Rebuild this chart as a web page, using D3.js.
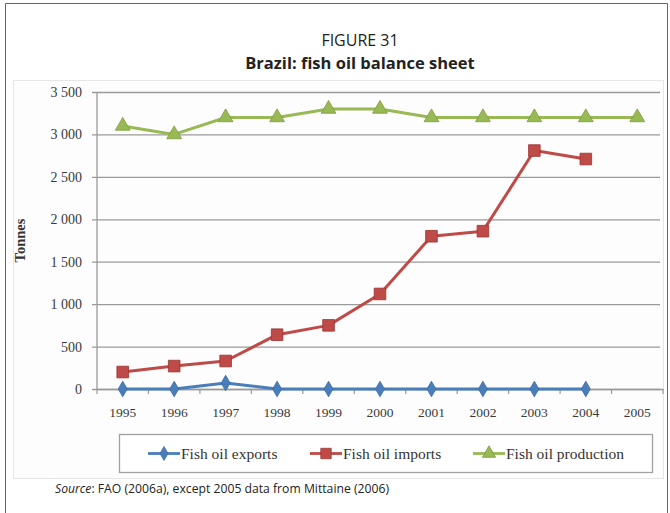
<!DOCTYPE html>
<html><head><meta charset="utf-8">
<script src="https://cdn.jsdelivr.net/npm/d3@7"></script>
<style>
html,body{margin:0;padding:0;background:#fff;}
svg{display:block;}
</style></head>
<body>
<svg id="chart" width="670" height="513"></svg>
<script>
const years = ["1995","1996","1997","1998","1999","2000","2001","2002","2003","2004","2005"];
const exportsVals = [0, 0, 70, 0, 0, 0, 0, 0, 0, 0, null];
const importsVals = [200, 270, 330, 640, 750, 1120, 1800, 1860, 2810, 2710, null];
const productionVals = [3100, 3000, 3200, 3200, 3300, 3300, 3200, 3200, 3200, 3200, 3200];
const yTicks = [0, 500, 1000, 1500, 2000, 2500, 3000, 3500];
const seriesNames = ["Fish oil exports", "Fish oil imports", "Fish oil production"];
const titleTop = "FIGURE 31";
const titleMain = "Brazil: fish oil balance sheet";

const svg = d3.select("#chart");
const serif = "'Liberation Serif','Times New Roman',serif";
const sans = "'Open Sans','Noto Sans','DejaVu Sans',sans-serif";

// outer frame
svg.append("path").attr("d","M5.5,513 L5.5,3.5 L667.5,3.5 L667.5,513")
  .attr("fill","none").attr("stroke","#666").attr("stroke-width",1);

// chart area
svg.append("rect").attr("x",13.5).attr("y",80.5).attr("width",650).attr("height",398)
  .attr("fill","#fdfdfd").attr("stroke","#e6e6e6");

svg.append("text").attr("x",360).attr("y",46).attr("text-anchor","middle")
  .attr("font-family",sans).attr("font-size",16).attr("fill","#222").text(titleTop);
svg.append("text").attr("x",360).attr("y",69).attr("text-anchor","middle")
  .attr("font-family",sans).attr("font-size",16.5).attr("font-weight","bold").attr("fill","#222").text(titleMain);

const margin = {left:97, right:663, top:92, bottom:389};
const x = d3.scaleBand().domain(years).range([margin.left, margin.right]).padding(0);
const y = d3.scaleLinear().domain([0,3500]).range([margin.bottom, margin.top]);
const cx = d => x(d) + x.bandwidth()/2;

// gridlines + y labels
const yAxis = d3.axisLeft(y).tickValues(yTicks).tickSize(-(margin.right - 3 - margin.left)).tickPadding(10)
  .tickFormat(v => v >= 1000 ? Math.floor(v/1000) + " " + String(v%1000).padStart(3,"0") : String(v));
const gy = svg.append("g").attr("transform",`translate(${margin.left},0)`).call(yAxis);
gy.select(".domain").remove();
gy.selectAll(".tick line").attr("stroke","#9a9a9a").attr("stroke-width",1.3).attr("x1",-5);
gy.selectAll(".tick text").attr("font-family",serif).attr("font-size",14).attr("fill","#3a3a3a").attr("x",-15);

// y axis line
svg.append("line").attr("x1",margin.left).attr("x2",margin.left).attr("y1",margin.top).attr("y2",margin.bottom)
  .attr("stroke","#9a9a9a").attr("stroke-width",1.3);

// x axis
const xAxis = d3.axisBottom(x).tickSize(0).tickPadding(18);
const gx = svg.append("g").attr("transform",`translate(0,${margin.bottom})`).call(xAxis);
gx.select(".domain").attr("stroke","#9a9a9a").attr("stroke-width",1.3);
gx.selectAll(".tick text").attr("font-family",serif).attr("font-size",13.5).attr("fill","#3a3a3a");
const bounds = years.map(d => x(d)).concat([margin.right]);
svg.append("g").selectAll("line").data(bounds).join("line")
  .attr("x1",d=>d).attr("x2",d=>d).attr("y1",margin.bottom).attr("y2",margin.bottom+5)
  .attr("stroke","#9a9a9a").attr("stroke-width",1.2);

// y axis title
svg.append("text").attr("transform",`translate(25,${(margin.top+margin.bottom)/2}) rotate(-90)`)
  .attr("text-anchor","middle").attr("font-family",serif).attr("font-size",14.5).attr("font-weight","bold")
  .attr("fill","#333").text("Tonnes");

const colors = ["#4a7ebb","#be4b48","#98b954"];
const strokes = ["#3a6aa5","#9e3330","#7e9c3f"];
const data = [exportsVals, importsVals, productionVals];
const line = d3.line().defined(d => d.v !== null).x(d => cx(d.k)).y(d => y(d.v));
const symbols = [d3.symbolDiamond, d3.symbolSquare, d3.symbolTriangle];
const sizes = [70, 135, 95];

data.forEach((vals, i) => {
  const pts = years.map((k, j) => ({k, v: vals[j]}));
  svg.append("path").datum(pts).attr("d", line).attr("fill","none")
    .attr("stroke", colors[i]).attr("stroke-width", 3).attr("stroke-linejoin","round");
  svg.append("g").selectAll("path").data(pts.filter(p => p.v !== null)).join("path")
    .attr("transform", p => `translate(${cx(p.k)},${y(p.v)})`)
    .attr("d", d3.symbol().type(symbols[i]).size(sizes[i]))
    .attr("fill", colors[i]).attr("stroke", strokes[i]).attr("stroke-width", 0.8);
});

// legend
const lg = svg.append("g");
lg.append("rect").attr("x",119.5).attr("y",434.5).attr("width",533).attr("height",38)
  .attr("fill","#fff").attr("stroke","#a0a0a0").attr("stroke-width",1.3);
const legX = [148, 310, 473];
seriesNames.forEach((name, i) => {
  const g = lg.append("g").attr("transform",`translate(${legX[i]},453.5)`);
  g.append("line").attr("x1",0).attr("x2",32).attr("stroke",colors[i]).attr("stroke-width",2.8);
  g.append("path").attr("transform","translate(16,0)").attr("d", d3.symbol().type(symbols[i]).size(sizes[i]*0.8))
    .attr("fill",colors[i]).attr("stroke",strokes[i]).attr("stroke-width",0.8);
  g.append("text").attr("x",33).attr("y",5).attr("font-family",serif).attr("font-size",15.5)
    .attr("fill","#333").text(name);
});

// source
const src = svg.append("text").attr("x",55).attr("y",493).attr("font-family",sans).attr("font-size",12.2).attr("fill","#222");
src.append("tspan").attr("font-style","italic").text("Source");
src.append("tspan").text(": FAO (2006a), except 2005 data from Mittaine (2006)");
</script>
</body></html>
